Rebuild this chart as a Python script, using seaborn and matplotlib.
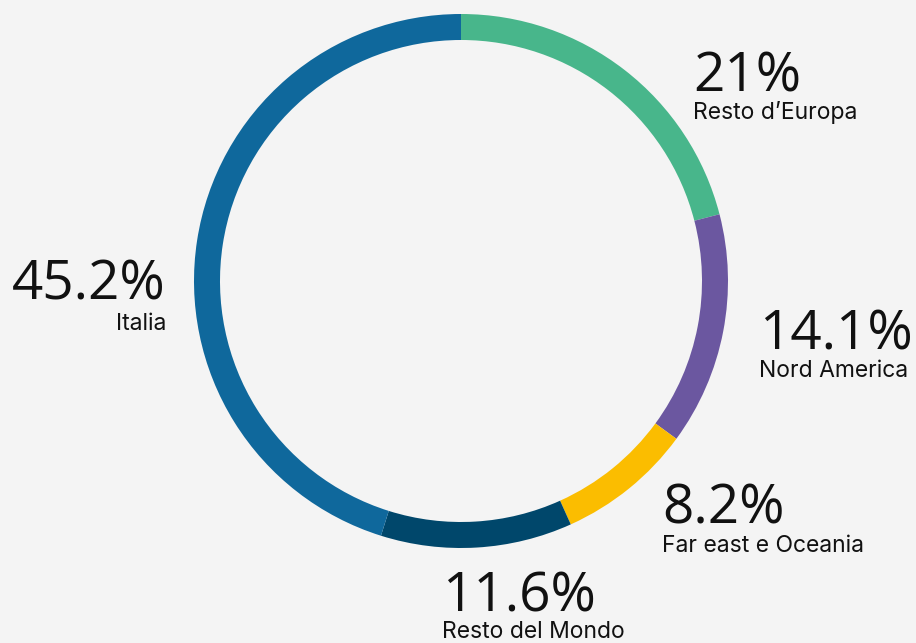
import matplotlib
matplotlib.use("Agg")
import matplotlib.pyplot as plt
import seaborn as sns

categories = ["Resto d\u2019Europa", "Nord America", "Far east e Oceania", "Resto del Mondo", "Italia"]
values = [21.0, 14.1, 8.2, 11.6, 45.2]
pct_labels = ["21%", "14.1%", "8.2%", "11.6%", "45.2%"]
colors = ["#48b68b", "#6b57a0", "#fbbd00", "#00476b", "#0f689c"]

sns.set_theme(style="white")
plt.rcParams["font.family"] = ["Inter", "DejaVu Sans"]

W, H = 916, 643
fig = plt.figure(figsize=(W / 100, H / 100), dpi=100)
fig.patch.set_facecolor("#f4f4f4")
ax = fig.add_axes([0, 0, 1, 1])
ax.set_facecolor("#f4f4f4")
ax.set_xlim(0, W)
ax.set_ylim(0, H)
ax.set_aspect("equal")
ax.axis("off")

ax.pie(values, colors=colors, startangle=90, counterclock=False,
       radius=267, center=(461, H - 281),
       wedgeprops=dict(width=26, linewidth=0))
ax.set_xlim(0, W)
ax.set_ylim(0, H)

# label anchor positions in pixel coords (x, baseline of pct, baseline of name, ha)
anchors = [
    (693, 91, 119, "left"),
    (759, 349, 377, "left"),
    (662, 523, 552, "left"),
    (442, 612, 638, "left"),
    (166, 299, 330, "right"),
]
for (x, yb1, yb2, ha), pct, name in zip(anchors, pct_labels, categories):
    ax.text(x, H - yb1, pct, fontsize=39.5, ha=ha, va="baseline", color="#111111",
            family=["Open Sans", "DejaVu Sans"])
    ax.text(x, H - yb2, name, fontsize=16.5, ha=ha, va="baseline", color="#111111")

fig.savefig("out.png", dpi=100, facecolor=fig.get_facecolor())
